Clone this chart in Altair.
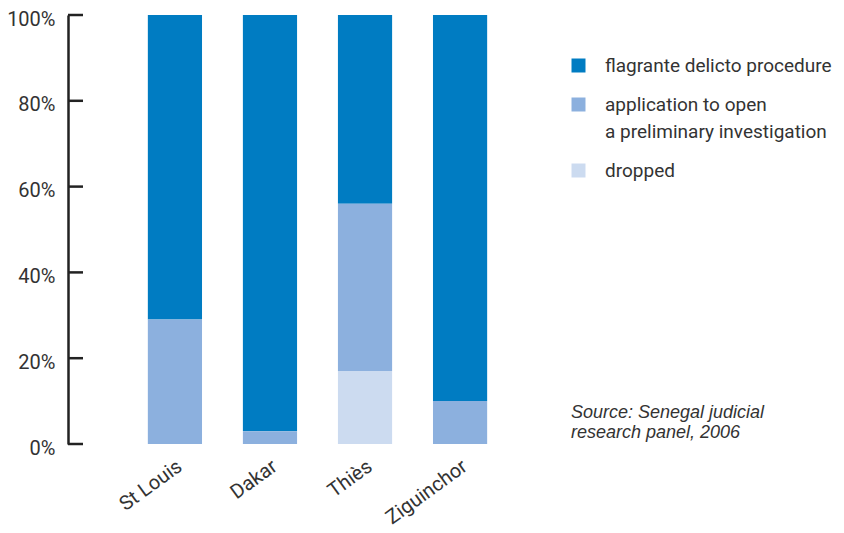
import altair as alt
import pandas as pd

cities = ["St Louis", "Dakar", "Thiès", "Ziguinchor"]
categories = ["flagrante delicto procedure", "application to open\na preliminary investigation", "dropped"]
stack_rank = [2, 1, 0]
colors = ["#007cc2", "#8cb0de", "#ccdbf0"]
flagrante = [71, 97, 44, 90]
application = [29, 3, 39, 10]
dropped = [0, 0, 17, 0]
y_ticks = [0, 0.2, 0.4, 0.6, 0.8, 1.0]
source_text = ["Source: Senegal judicial", "research panel, 2006"]

rows = []
for i, c in enumerate(cities):
    for cat, rank, vals in zip(categories, stack_rank, [flagrante, application, dropped]):
        rows.append({"city": c, "category": cat, "rank": rank, "value": vals[i] / 100})
df = pd.DataFrame(rows)

FONT = "Roboto"
TXT = "#333333"

bars = alt.Chart(df).mark_bar().encode(
    x=alt.X("city:N", sort=cities,
            scale=alt.Scale(paddingInner=0.43, paddingOuter=0.84),
            axis=alt.Axis(title=None, domain=False, ticks=False, labelAngle=-36,
                          labelAlign="right", labelBaseline="middle", labelPadding=20,
                          labelOffset=5,
                          labelFontSize=20, labelColor=TXT, labelFont=FONT)),
    y=alt.Y("value:Q", stack="zero",
            scale=alt.Scale(domain=[0, 1], nice=False),
            axis=alt.Axis(title=None, values=y_ticks, format=".0%", grid=False,
                          ticks=False, domainColor="#222222", domainWidth=2.5,
                          labelFontSize=20, labelColor=TXT, labelFont=FONT,
                          labelPadding=13, labelOffset=4)),
    color=alt.Color("category:N", sort=categories,
                    scale=alt.Scale(domain=categories, range=colors),
                    legend=alt.Legend(title=None, orient="none", legendX=501, legendY=41,
                                      symbolType="square", symbolSize=196,
                                      symbolStrokeWidth=0, symbolOpacity=1,
                                      labelFontSize=19, labelColor=TXT, labelFont=FONT,
                                      labelOffset=17, rowPadding=19, labelLimit=400,
                                      labelExpr="split(datum.label, '\\n')")),
    order=alt.Order("rank:Q", sort="ascending"),
)

tick_df = pd.DataFrame({"t": y_ticks})
ticks = alt.Chart(tick_df).mark_rule(color="#222222", strokeWidth=2.5).encode(
    y="t:Q", x=alt.value(0), x2=alt.value(15)
)

src_df = pd.DataFrame({"txt": [source_text]})
source = alt.Chart(src_df).mark_text(
    align="left", baseline="middle", fontSize=18, fontStyle="italic",
    font="Liberation Sans", color=TXT, lineHeight=20
).encode(text="txt", x=alt.value(503), y=alt.value(398))

chart = alt.layer(bars, ticks, source).properties(
    width=499, height=429,
    autosize=alt.AutoSizeParams(type="none"),
    padding={"left": 60, "top": 7, "right": 269, "bottom": 86},
).configure(
    background="white",
    view=alt.ViewConfig(strokeWidth=0),
    style={"guide-label": {"lineHeight": 27}},
)

chart.save("out.html", embed_options={"renderer": "svg", "actions": False})
